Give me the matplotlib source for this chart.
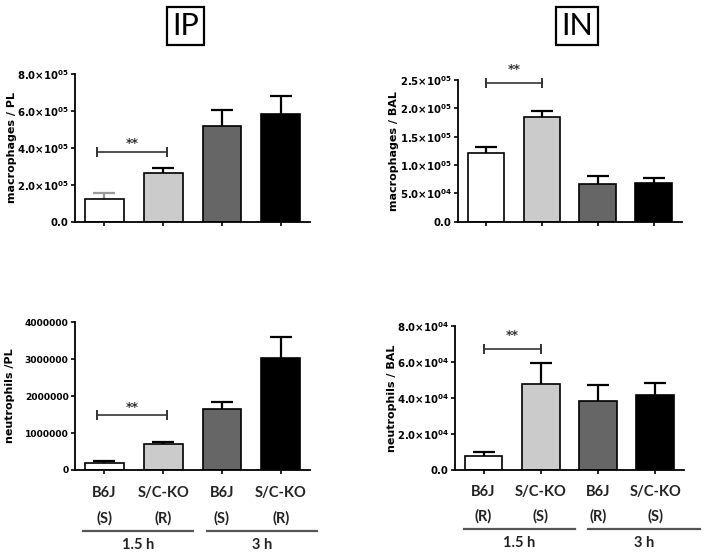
import numpy as np
import matplotlib
matplotlib.use('Agg')
import matplotlib.pyplot as plt
from matplotlib.ticker import FuncFormatter

plt.rcParams['font.family'] = ['DejaVu Sans']
plt.rcParams['mathtext.fontset'] = 'dejavusans'
plt.rcParams['mathtext.default'] = 'bf'

# data
strains = ['B6J', 'S/C-KO', 'B6J', 'S/C-KO']
ip_status = ['(S)', '(R)', '(S)', '(R)']
in_status = ['(R)', '(S)', '(R)', '(S)']
times = ['1.5 h', '3 h']
bar_colors = ['white', '#cbcbcb', '#666666', 'black']

ip_mac = [1.24e5, 2.65e5, 5.19e5, 5.84e5]
ip_mac_sem = [0.34e5, 0.29e5, 0.86e5, 0.97e5]
in_mac = [1.21e5, 1.84e5, 6.65e4, 6.77e4]
in_mac_sem = [0.11e5, 0.11e5, 1.45e4, 0.88e4]
ip_neu = [1.98e5, 7.04e5, 1.65e6, 3.03e6]
ip_neu_sem = [0.42e5, 0.63e5, 0.20e6, 0.58e6]
in_neu = [7.8e3, 4.8e4, 3.82e4, 4.17e4]
in_neu_sem = [2.2e3, 1.14e4, 0.92e4, 0.66e4]

# significance brackets: (x start, x end, y)
ip_mac_sig = (-0.12, 1.07, 3.8e5)
in_mac_sig = (0.0, 1.0, 2.44e5)
ip_neu_sig = (-0.12, 1.07, 1.48e6)
in_neu_sig = (0.0, 1.0, 6.7e4)


def sci_fmt(v, pos):
    if v == 0:
        return '0.0'
    e = int(np.floor(np.log10(v) + 1e-9))
    m = v / 10 ** e
    return r'$%.1f{\times}10^{%02d}$' % (m, e)


def int_fmt(v, pos):
    return '%d' % v


def panel(rect, means, sems, ylim, step, fmt, ylabel, lab_x, sig, star_off,
          tick_size=7.3, err_cols=None):
    ax = fig.add_axes(rect)
    x = np.arange(len(means))
    if err_cols is None:
        err_cols = ['black'] * len(means)
    for i in range(len(means)):
        ax.errorbar(x[i], means[i], yerr=sems[i], color=err_cols[i], capsize=8,
                    capthick=1.6, elinewidth=1.6, zorder=1)
    ax.bar(x, means, width=0.66, color=bar_colors, edgecolor='black',
           linewidth=1.2, zorder=2)
    ax.set_xlim(-0.5, 3.5)
    ax.set_ylim(*ylim)
    ax.set_yticks(np.arange(ylim[0], ylim[1] + step / 2, step))
    ax.yaxis.set_major_formatter(FuncFormatter(fmt))
    ax.set_xticks(x)
    ax.set_xticklabels([])
    for s in ['top', 'right']:
        ax.spines[s].set_visible(False)
    for s in ['left', 'bottom']:
        ax.spines[s].set_linewidth(1.3)
    ax.tick_params(axis='both', direction='out', length=3, width=1.2, labelsize=tick_size, pad=1.5)
    for lb in ax.get_yticklabels():
        lb.set_fontweight('bold')
    ax.set_ylabel(ylabel, fontsize=8, fontweight='bold')
    ax.yaxis.set_label_coords(lab_x, 0.5)
    x0, x1, y = sig
    ax.plot([x0, x1], [y, y], color='#333333', lw=1.2, clip_on=False)
    ax.plot([x0, x1], [y, y], ls='none', marker='|', ms=7, mew=1.4, color='#333333', clip_on=False)
    ax.annotate('**', ((x0 + x1) / 2, y), xytext=(0, star_off), textcoords='offset points',
                ha='center', va='bottom', fontsize=9, fontweight='bold', color='#333333',
                annotation_clip=False)
    return ax


def group_labels(ax, status, lines):
    tr = ax.get_xaxis_transform()
    for i in range(4):
        ax.text(i, -0.155, strains[i], transform=tr, ha='center', va='center',
                fontsize=10.5, fontweight='bold', family='Lato', color='#222222')
        ax.text(i, -0.325, status[i], transform=tr, ha='center', va='center',
                fontsize=10.5, fontweight='bold', family='Lato', color='#222222')
    for (a, b), t in zip(lines, times):
        ax.plot([a, b], [-0.41, -0.41], transform=tr, color='#555555', lw=1.6, clip_on=False)
        ax.text((a + b) / 2, -0.51, t, transform=tr, ha='center', va='center',
                fontsize=10.5, fontweight='bold', family='Lato', color='#222222')


fig = plt.figure(figsize=(7.04, 5.55), dpi=100)

panel([0.1065, 0.600, 0.334, 0.2667], ip_mac, ip_mac_sem, (0, 8e5), 2e5, sci_fmt,
      'macrophages / PL', -0.247, ip_mac_sig, 1, err_cols=['#999999', 'black', 'black', 'black'])
panel([0.6506, 0.6006, 0.318, 0.2553], in_mac, in_mac_sem, (0, 2.5e5), 5e4, sci_fmt,
      'macrophages / BAL', -0.263, in_mac_sig, 5)
ax3 = panel([0.1065, 0.1532, 0.334, 0.2661], ip_neu, ip_neu_sem, (0, 4e6), 1e6, int_fmt,
            'neutrophils /PL', -0.255, ip_neu_sig, 1, tick_size=6.6)
ax4 = panel([0.6463, 0.1532, 0.325, 0.2594], in_neu, in_neu_sem, (0, 8e4), 2e4, sci_fmt,
            'neutrophils / BAL', -0.253, in_neu_sig, 5)

group_labels(ax3, ip_status, [(-0.36, 1.51), (1.75, 3.62)])
group_labels(ax4, in_status, [(-0.34, 1.59), (1.83, 3.78)])

box = dict(boxstyle='square,pad=0.17', facecolor='white', edgecolor='black', linewidth=1.6)
fig.text(0.263, 0.953, 'IP', ha='center', va='center', fontsize=22, family='Lato', bbox=box)
fig.text(0.820, 0.953, 'IN', ha='center', va='center', fontsize=22, family='Lato', bbox=box)

fig.savefig('out.png', dpi=100)
